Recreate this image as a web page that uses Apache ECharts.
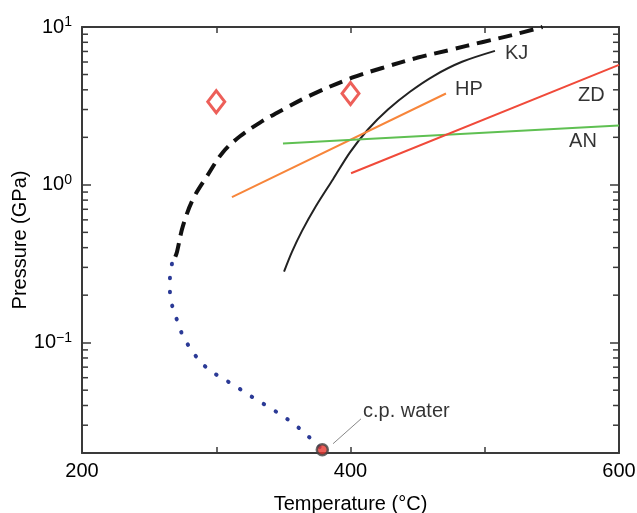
<!DOCTYPE html>
<html>
<head>
<meta charset="utf-8">
<script src="https://cdn.jsdelivr.net/npm/echarts@6/dist/echarts.min.js"></script>
<style>
  html, body { margin: 0; padding: 0; background: #fff; }
  #main { width: 637px; height: 513px; }
</style>
</head>
<body>
<div id="main"></div>
<script>
// 轴范围
const xMin = 200, xMax = 600;
const yMin = 0.02, yMax = 10;

// 蓝色点线 (低压段)
const dotT = [267.0, 265.5, 265.5, 267.8, 271.5, 275.2, 281.2, 287.9, 296.1, 305.8, 315.5, 324.4, 334.1, 343.8, 352.7, 361.6, 370.6, 379];
const dotP = [0.316, 0.254, 0.205, 0.164, 0.134, 0.110, 0.0908, 0.0762, 0.0659, 0.0587, 0.0523, 0.0466, 0.0415, 0.0369, 0.0329, 0.0288, 0.0246, 0.021];

// 黑色粗虚线
const dashT = [269.5, 270.8, 275.2, 282.7, 293.1, 305.0, 317.7, 332.6, 349.7, 371.3, 401.1, 424.2, 449.5, 474.1, 498.7, 521.0, 543];
const dashP = [0.35, 0.377, 0.550, 0.812, 1.134, 1.61, 2.03, 2.48, 3.00, 3.73, 4.77, 5.52, 6.38, 7.16, 8.04, 8.91, 10];

// KJ
const kjT = [350.5, 356.4, 363.9, 374.3, 387.0, 399.6, 413.0, 427.9, 444.3, 462.2, 483.1, 507.6];
const kjP = [0.282, 0.376, 0.511, 0.734, 1.086, 1.607, 2.243, 3.00, 3.89, 4.91, 6.02, 7.06];

// HP
const hpT = [311.7, 471.1];
const hpP = [0.836, 3.79];

// AN
const anT = [349.7, 600];
const anP = [1.83, 2.38];

// ZD
const zdT = [400.4, 600];
const zdP = [1.184, 5.76];

// 菱形点
const diamondT = [300, 400];
const diamondP = [3.36, 3.79];

// 水的临界点
const cpT = [379];
const cpP = [0.021];
const leaderT = [387, 407.8];
const leaderP = [0.0229, 0.0329];

// 文字标注
const labelNames = ['KJ', 'HP', 'ZD', 'AN', 'c.p. water'];
const labelT = [515.1, 477.8, 569.5, 562.8, 409.3];
const labelP = [6.81, 4.01, 3.67, 1.88, 0.0364];

// 对数轴次刻度
const minorTicks = [0.03, 0.04, 0.05, 0.06, 0.07, 0.08, 0.09,
  0.2, 0.3, 0.4, 0.5, 0.6, 0.7, 0.8, 0.9,
  2, 3, 4, 5, 6, 7, 8, 9];

const FONT = '"Liberation Sans", Arial, Helvetica, sans-serif';
const AXIS_COLOR = '#3a3a3a';

function pairs(xs, ys) {
  return xs.map((x, i) => [x, ys[i]]);
}

const chart = echarts.init(document.getElementById('main'));

const xAxisBase = {
  type: 'value',
  min: xMin,
  max: xMax,
  interval: 100,
  splitLine: { show: false },
  axisLine: { show: true, lineStyle: { color: AXIS_COLOR, width: 2 } },
  axisTick: { show: true, inside: true, length: 6, lineStyle: { color: AXIS_COLOR, width: 1.5 } }
};

const yAxisBase = {
  type: 'log',
  logBase: 10,
  min: yMin,
  max: yMax,
  splitLine: { show: false },
  axisLine: { show: true, lineStyle: { color: AXIS_COLOR, width: 2 } },
  axisTick: { show: true, inside: true, length: 9, lineStyle: { color: AXIS_COLOR, width: 1.5 } }
};

chart.setOption({
  animation: false,
  backgroundColor: '#fff',
  textStyle: { fontFamily: FONT },
  grid: { left: 82, right: 18, top: 27, bottom: 60, outerBoundsMode: 'none', containLabel: false },
  xAxis: [
    Object.assign({}, xAxisBase, {
      position: 'bottom',
      name: 'Temperature (°C)',
      nameLocation: 'middle',
      nameGap: 41,
      nameMoveOverlap: false,
      nameTextStyle: { fontSize: 20, color: '#000', fontFamily: FONT },
      axisLabel: {
        margin: 8,
        fontSize: 20,
        color: '#000',
        fontFamily: FONT,
        formatter: v => (v % 200 === 0 ? String(v) : '')
      }
    }),
    Object.assign({}, xAxisBase, {
      position: 'top',
      axisLabel: { show: false }
    })
  ],
  yAxis: [
    Object.assign({}, yAxisBase, {
      position: 'left',
      name: 'Pressure (GPa)',
      nameLocation: 'middle',
      nameGap: 52,
      nameMoveOverlap: false,
      nameTextStyle: { fontSize: 20, color: '#000', fontFamily: FONT },
      axisLabel: {
        margin: 10,
        color: '#000',
        formatter: v => {
          const e = Math.log10(v);
          const r = Math.round(e);
          if (Math.abs(e - r) > 1e-6) return '';
          return '{b|10}{s|' + (r < 0 ? '\u2212' + (-r) : r) + '}';
        },
        rich: {
          b: { fontSize: 20, fontFamily: FONT, color: '#000' },
          s: { fontSize: 14, fontFamily: FONT, color: '#000', verticalAlign: 'top', padding: [0, 0, 10, 0] }
        }
      }
    }),
    Object.assign({}, yAxisBase, {
      position: 'right',
      axisLabel: { show: false }
    })
  ],
  series: [
    {
      // 次刻度
      type: 'custom',
      silent: true,
      z: 5,
      data: minorTicks.map(v => [xMin, v]),
      renderItem: (params, api) => {
        const v = api.value(1);
        const l = api.coord([xMin, v]);
        const r = api.coord([xMax, v]);
        const st = { stroke: AXIS_COLOR, lineWidth: 1.5 };
        return {
          type: 'group',
          children: [
            { type: 'line', shape: { x1: l[0], y1: l[1], x2: l[0] + 6, y2: l[1] }, style: st },
            { type: 'line', shape: { x1: r[0], y1: r[1], x2: r[0] - 6, y2: r[1] }, style: st }
          ]
        };
      }
    },
    {
      type: 'line',
      data: pairs(dotT, dotP),
      smooth: 0.3,
      showSymbol: false,
      lineStyle: { color: '#2b3a96', width: 4, type: [0.5, 13.5], cap: 'round' }
    },
    {
      type: 'line',
      data: pairs(dashT, dashP),
      smooth: 0.35,
      showSymbol: false,
      lineStyle: { color: '#111', width: 4, type: [14, 8] }
    },
    {
      type: 'line',
      data: pairs(kjT, kjP),
      smooth: 0.3,
      showSymbol: false,
      lineStyle: { color: '#222', width: 2 }
    },
    {
      type: 'line',
      data: pairs(hpT, hpP),
      showSymbol: false,
      lineStyle: { color: '#f7853a', width: 2 }
    },
    {
      type: 'line',
      data: pairs(anT, anP),
      showSymbol: false,
      lineStyle: { color: '#5fc052', width: 2 }
    },
    {
      type: 'line',
      data: pairs(zdT, zdP),
      showSymbol: false,
      lineStyle: { color: '#f04a3a', width: 2 }
    },
    {
      type: 'scatter',
      data: pairs(diamondT, diamondP),
      symbol: 'diamond',
      symbolSize: [17, 22],
      itemStyle: { color: '#fff', borderColor: '#e8372f', borderWidth: 3 }
    },
    {
      type: 'line',
      data: pairs(leaderT, leaderP),
      showSymbol: false,
      lineStyle: { color: '#888', width: 1 }
    },
    {
      type: 'scatter',
      data: pairs(cpT, cpP),
      symbol: 'circle',
      symbolSize: 11,
      z: 10,
      itemStyle: { color: '#e8372f', borderColor: '#444', borderWidth: 2.5 }
    },
    {
      type: 'scatter',
      data: labelNames.map((n, i) => ({ name: n, value: [labelT[i], labelP[i]] })),
      symbolSize: 0,
      silent: true,
      label: {
        show: true,
        position: 'right',
        distance: 0,
        formatter: p => p.name,
        fontSize: 20,
        color: '#000',
        fontFamily: FONT
      }
    }
  ]
});
</script>
</body>
</html>
